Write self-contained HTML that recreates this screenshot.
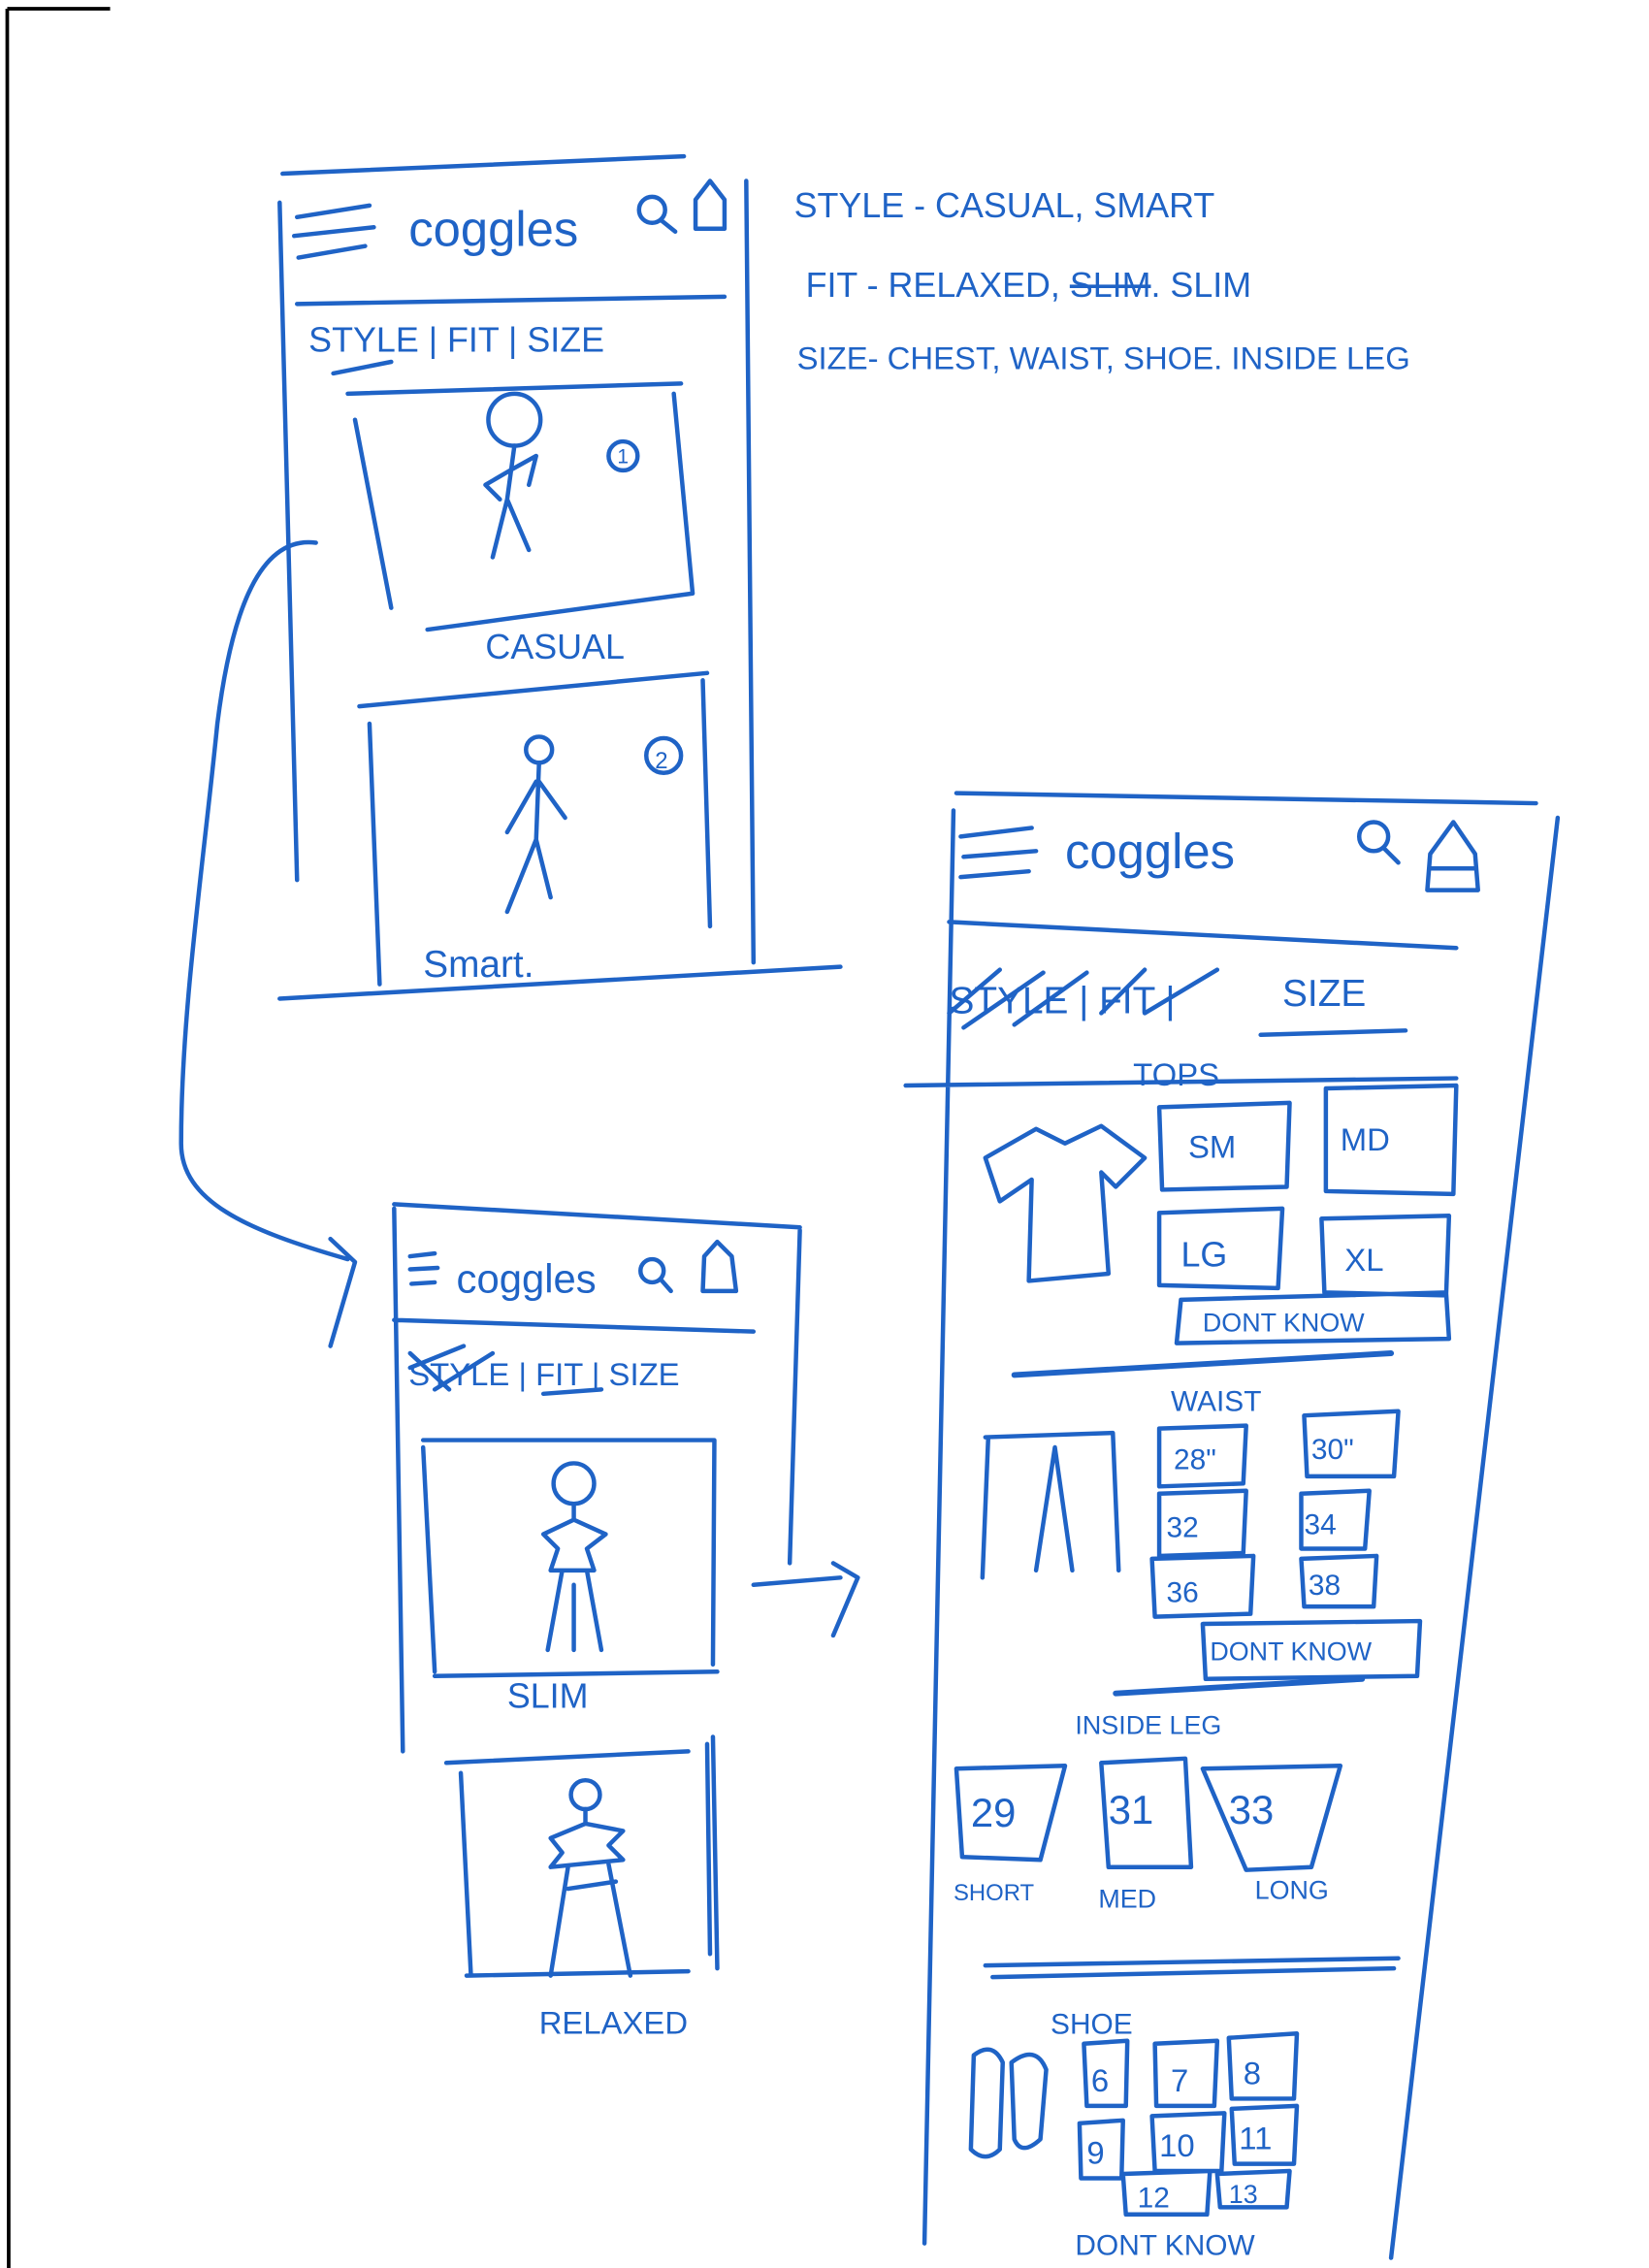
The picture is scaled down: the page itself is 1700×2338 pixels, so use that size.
<!DOCTYPE html>
<html><head><meta charset="utf-8"><style>
html,body{margin:0;padding:0;background:#fff;}
svg{display:block;}
text{font-family:"Liberation Sans",sans-serif;fill:#1f63c6;}
</style></head><body>
<svg width="1700" height="2338" viewBox="0 0 1138 1567" preserveAspectRatio="none" xmlns="http://www.w3.org/2000/svg">
<rect width="1138" height="1567" fill="#fff"/>
<g stroke="#000" stroke-width="2.5" fill="none"><path d="M5 6 L76 6 M5 6 L6 1567"/></g>
<g stroke="#1f63c6" stroke-width="3" fill="none" stroke-linecap="round" stroke-linejoin="round">
<!-- Frame 1 -->
<path d="M195 120 L472 108 M193 140 L205 608 M515 125 L520 665 M193 690 L580 668 M205 210 L500 205"/>
<path d="M205 150 L255 142 M203 163 L258 157 M206 178 L252 170"/>
<circle cx="450" cy="145" r="9"/><path d="M456 152 L466 160 M480 158 L480 138 L490 125 L500 138 L500 158 Z"/>
<path d="M230 258 L270 250"/>
<path d="M240 272 L470 265 M245 290 L270 420 M465 272 L478 410 M295 435 L478 410"/>
<circle cx="355" cy="290" r="18"/><path d="M355 308 L350 345 L340 385 M350 345 L365 380 M352 325 L335 335 L345 345 M352 325 L370 315 L365 335"/>
<circle cx="430" cy="315" r="10"/>
<path d="M248 488 L488 465 M255 500 L262 680 M485 470 L490 640"/>
<circle cx="372" cy="518" r="9"/><path d="M372 527 L370 580 L350 630 M370 580 L380 620 M370 540 L350 575 M372 540 L390 565"/>
<circle cx="458" cy="522" r="12"/>
<!-- connector -->
<path d="M218 375 C180 370 160 420 150 500 C140 600 125 700 125 790 C125 830 170 850 240 870"/>
<path d="M228 856 L245 872 L228 930"/>
<!-- Frame 2 -->
<path d="M272 832 L552 848 M272 835 L278 1210 M552 850 L545 1080 M492 1200 L495 1360 M272 912 L520 920"/>
<path d="M283 868 L300 866 M283 877 L302 876 M284 887 L300 886"/>
<circle cx="450" cy="878" r="8"/><path d="M456 884 L463 892 M485 892 L486 868 L495 858 L505 868 L508 892 Z"/>
<path d="M283 935 L310 960 M283 945 L320 930 M300 960 L340 935 M375 963 L415 960"/>
<path d="M292 995 L493 995 L492 1150 M292 1000 L300 1155 M300 1158 L495 1155"/>
<circle cx="396" cy="1025" r="14"/><path d="M396 1039 L396 1050 L375 1060 L385 1070 L380 1085 L410 1085 L405 1070 L418 1060 L396 1050 M388 1085 L378 1140 M405 1085 L415 1140 M396 1095 L396 1140"/>
<path d="M308 1218 L475 1210 M318 1225 L325 1365 M488 1205 L490 1350 M322 1365 L475 1362"/>
<circle cx="404" cy="1240" r="10"/><path d="M404 1250 L404 1260 L380 1270 L388 1280 L380 1290 L430 1285 L420 1275 L430 1265 L404 1260 M392 1290 L380 1365 M420 1288 L435 1365 M392 1305 L425 1300"/>
<path d="M520 1095 L580 1090 M575 1080 L592 1090 L575 1130"/>
<!-- Frame 3 -->
<path d="M660 548 L1060 555 M658 560 L638 1550 M1075 565 L960 1560 M655 637 L1005 655 M625 750 L1005 745"/>
<path d="M663 578 L712 572 M665 592 L715 588 M663 606 L710 602"/>
<circle cx="948" cy="578" r="10"/><path d="M955 586 L965 596 M985 615 L987 590 L1003 568 L1018 590 L1020 615 Z M987 600 L1018 600"/>
<path d="M655 700 L690 670 M665 710 L720 672 M700 708 L750 672 M760 700 L790 670 M790 700 L840 670 M870 715 L970 712"/>
<path d="M680 800 L715 780 L735 790 L760 778 L790 800 L770 820 L760 810 L765 880 L710 885 L712 815 L690 830 Z"/>
<path d="M800 765 L890 762 L888 820 L802 822 Z M915 752 L1005 750 L1003 825 L915 823 Z M800 838 L885 835 L882 890 L800 888 Z M912 842 L1000 840 L998 895 L914 893 Z M815 898 L998 893 L1000 925 L812 928 Z"/>
<path d="M700 950 L960 935" stroke-width="4"/>
<path d="M680 993 L768 990 L772 1085 M682 993 L678 1090 M715 1085 L728 1000 L740 1085"/>
<path d="M800 987 L860 985 L858 1025 L800 1027 Z M900 978 L965 975 L962 1020 L902 1020 Z M800 1032 L860 1030 L858 1073 L800 1075 Z M898 1032 L945 1030 L942 1070 L898 1070 Z M795 1077 L865 1075 L863 1115 L797 1117 Z M898 1077 L950 1075 L948 1110 L900 1110 Z M830 1122 L980 1120 L978 1158 L832 1160 Z"/>
<path d="M770 1170 L940 1160" stroke-width="4"/>
<path d="M660 1222 L735 1220 L718 1285 L664 1283 Z M760 1218 L818 1215 L822 1290 L765 1290 Z M830 1222 L925 1220 L905 1290 L860 1292 Z"/>
<path d="M680 1358 L965 1353 M685 1366 L962 1360" stroke-width="3"/>
<path d="M672 1420 Q685 1410 692 1425 L690 1485 Q680 1495 670 1485 Z M698 1425 Q715 1412 722 1430 L718 1478 Q705 1490 700 1478 Z"/>
<path d="M748 1412 L778 1410 L777 1455 L750 1455 Z M797 1412 L840 1410 L838 1455 L798 1455 Z M848 1408 L895 1405 L893 1450 L850 1450 Z M745 1467 L775 1465 L774 1505 L746 1505 Z M795 1462 L845 1460 L843 1500 L797 1500 Z M850 1457 L895 1455 L893 1495 L852 1495 Z M775 1502 L835 1500 L833 1530 L777 1530 Z M840 1502 L890 1500 L888 1525 L842 1525 Z"/>
</g>
<g font-size="26">
<text x="282" y="170" font-size="34">coggles</text>
<text x="213" y="243" font-size="24">STYLE | FIT | SIZE</text>
<text x="426" y="320" font-size="14">1</text>
<text x="335" y="455" font-size="24">CASUAL</text>
<text x="452" y="531" font-size="16">2</text>
<text x="292" y="675" font-size="26">Smart.</text>
<text x="548" y="150" font-size="24">STYLE  - CASUAL, SMART</text>
<text x="556" y="205" font-size="24">FIT - RELAXED, <tspan text-decoration="line-through">SLIM</tspan>. SLIM</text>
<text x="550" y="255" font-size="22">SIZE- CHEST, WAIST, SHOE. INSIDE LEG</text>
<text x="315" y="893" font-size="28">coggles</text>
<text x="282" y="957" font-size="22">STYLE | FIT | SIZE</text>
<text x="350" y="1180" font-size="24">SLIM</text>
<text x="372" y="1405" font-size="22">RELAXED</text>
<text x="735" y="600" font-size="34">coggles</text>
<text x="655" y="700" font-size="26">STYLE | FIT |</text>
<text x="885" y="695" font-size="26">SIZE</text>
<text x="782" y="750" font-size="22">TOPS</text>
<text x="820" y="800" font-size="22">SM</text>
<text x="925" y="795" font-size="22">MD</text>
<text x="815" y="875" font-size="24">LG</text>
<text x="928" y="878" font-size="22">XL</text>
<text x="830" y="920" font-size="18">DONT KNOW</text>
<text x="808" y="975" font-size="20">WAIST</text>
<text x="810" y="1015" font-size="20">28"</text>
<text x="905" y="1008" font-size="20">30"</text>
<text x="805" y="1062" font-size="20">32</text>
<text x="900" y="1060" font-size="20">34</text>
<text x="805" y="1107" font-size="20">36</text>
<text x="903" y="1102" font-size="20">38</text>
<text x="835" y="1147" font-size="18">DONT KNOW</text>
<text x="742" y="1198" font-size="18">INSIDE LEG</text>
<text x="670" y="1262" font-size="28">29</text>
<text x="765" y="1260" font-size="28">31</text>
<text x="848" y="1260" font-size="28">33</text>
<text x="658" y="1313" font-size="16">SHORT</text>
<text x="758" y="1318" font-size="18">MED</text>
<text x="866" y="1312" font-size="18">LONG</text>
<text x="725" y="1405" font-size="20">SHOE</text>
<text x="753" y="1445" font-size="22">6</text>
<text x="808" y="1445" font-size="22">7</text>
<text x="858" y="1440" font-size="22">8</text>
<text x="750" y="1495" font-size="22">9</text>
<text x="800" y="1490" font-size="22">10</text>
<text x="855" y="1485" font-size="22">11</text>
<text x="785" y="1525" font-size="20">12</text>
<text x="848" y="1522" font-size="18">13</text>
<text x="742" y="1558" font-size="20">DONT KNOW</text>
</g>
</svg>
</body></html>
